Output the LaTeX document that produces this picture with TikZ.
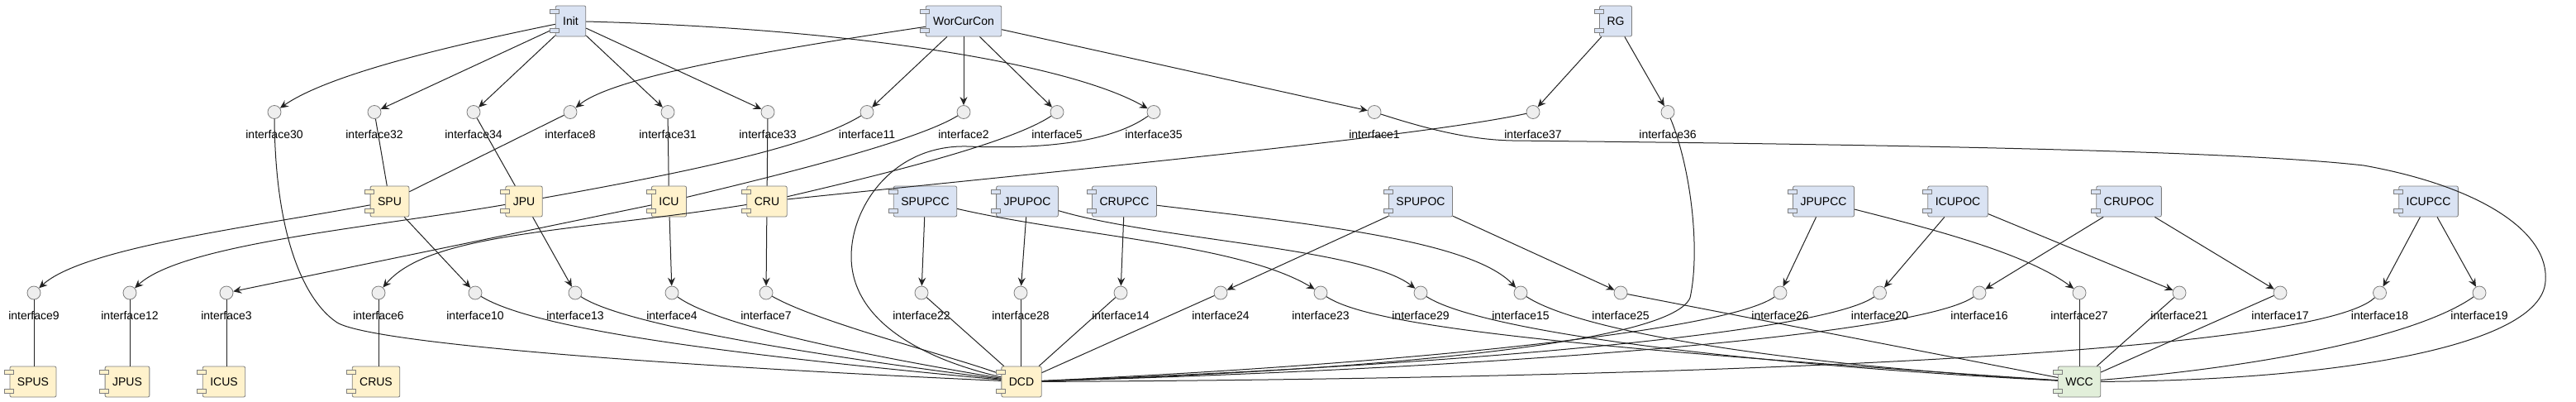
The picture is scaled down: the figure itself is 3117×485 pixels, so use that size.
\documentclass[tikz,border=0pt]{standalone}
\usepackage{fontspec}
\setmainfont{Liberation Sans}
\usetikzlibrary{arrows.meta}
\definecolor{cblue}{HTML}{DAE3F3}
\definecolor{cyel}{HTML}{FFF2CC}
\definecolor{cgrn}{HTML}{E2EFDA}
\definecolor{bord}{HTML}{7F7F7F}
\definecolor{ifill}{HTML}{EEEEEE}
\definecolor{edgec}{HTML}{222222}
\tikzset{
  comp/.style={draw=bord, fill=#1, line width=0.8pt, rounded corners=2pt, minimum height=37pt,
    inner xsep=9pt, inner ysep=0pt, font=\fontsize{14}{16}\selectfont},
  iface/.style={circle, draw=bord, fill=ifill, line width=0.8pt, minimum size=16pt, inner sep=0pt},
  lbl/.style={font=\fontsize{14}{16}\selectfont, inner sep=0pt},
  prov/.style={draw=edgec, line width=1pt, -{Stealth[length=10pt,width=9pt,inset=3.5pt]}},
  use/.style={draw=edgec, line width=1pt},
  port/.style={draw=bord, line width=0.8pt}
}
\begin{document}
\begin{tikzpicture}[x=1pt,y=-1pt]
\useasboundingbox (0,0) rectangle (3117,485);
% top components
\node[comp=cblue] (Init) at (690.5,25.5) {Init};
\node[comp=cblue] (WorCurCon) at (1166,25.5) {WorCurCon};
\node[comp=cblue] (RG) at (1955,25.5) {RG};
% middle components
\node[comp=cyel] (SPU) at (471.5,243.5) {SPU};
\node[comp=cyel] (JPU) at (634,243.5) {JPU};
\node[comp=cyel] (ICU) at (809.5,243.5) {ICU};
\node[comp=cyel] (CRU) at (928,243.5) {CRU};
\node[comp=cblue] (SPUPCC) at (1119.5,243.5) {SPUPCC};
\node[comp=cblue] (JPUPOC) at (1243,243.5) {JPUPOC};
\node[comp=cblue] (CRUPCC) at (1360.5,243.5) {CRUPCC};
\node[comp=cblue] (SPUPOC) at (1719,243.5) {SPUPOC};
\node[comp=cblue] (JPUPCC) at (2206.5,243.5) {JPUPCC};
\node[comp=cblue] (ICUPOC) at (2369,243.5) {ICUPOC};
\node[comp=cblue] (CRUPOC) at (2576,243.5) {CRUPOC};
\node[comp=cblue] (ICUPCC) at (2938.5,243.5) {ICUPCC};
% bottom components
\node[comp=cyel] (SPUS) at (40,461.5) {SPUS};
\node[comp=cyel] (JPUS) at (154,461.5) {JPUS};
\node[comp=cyel] (ICUS) at (271,461.5) {ICUS};
\node[comp=cyel] (CRUS) at (455,461.5) {CRUS};
\node[comp=cyel] (DCD) at (1236,461.5) {DCD};
\node[comp=cgrn] (WCC) at (2516,461.5) {WCC};
% interfaces row 1
\foreach \n/\x in {30/332,32/453,34/573,8/690,31/808,33/929,11/1049,2/1166,5/1279,35/1396,1/1663,37/1855,36/2018}{
  \node[iface] (i\n) at (\x,135.5) {};
  \node[lbl] (l\n) at (\x,162.5) {interface\n};
}
% interfaces row 2
\foreach \n/\x in {9/41,12/157,3/274,6/458,10/575,13/696,4/813,7/927,22/1115,28/1235,14/1356,24/1477,23/1598,29/1719,15/1840,25/1961,26/2154,20/2274.5,16/2395,27/2516,21/2637,17/2759,18/2879.5,19/3000}{
  \node[iface] (i\n) at (\x,354) {};
  \node[lbl] (l\n) at (\x,381) {interface\n};
}
% provided interfaces, top row
\draw[prov] (Init) .. controls (560,52) and (400,88) .. (i30);
\draw[prov] (Init) -- (i32);
\draw[prov] (Init) -- (i34);
\draw[prov] (Init) -- (i31);
\draw[prov] (Init) -- (i33);
\draw[prov] (Init) .. controls (1050,35) and (1300,80) .. (i35);
\draw[prov] (WorCurCon) .. controls (900,65) and (740,95) .. (i8);
\draw[prov] (WorCurCon) -- (i11);
\draw[prov] (WorCurCon) -- (i2);
\draw[prov] (WorCurCon) -- (i5);
\draw[prov] (WorCurCon) -- (i1);
\draw[prov] (RG) -- (i37);
\draw[prov] (RG) -- (i36);
% uses, row 1
\draw[use] (i30) .. controls (333,290) and (370,365) .. (408,390) .. controls (450,415) and (800,442) .. (DCD);
\draw[use] (i32) -- (SPU);
\draw[use] (i34) -- (JPU);
\draw[use] (i8) -- (SPU);
\draw[use] (i31) -- (ICU);
\draw[use] (i33) -- (CRU);
\draw[use] (i11) .. controls (985,175) and (850,205) .. (JPU);
\draw[use] (i2) .. controls (1110,170) and (950,210) .. (ICU);
\draw[use] (i5) .. controls (1220,175) and (1050,215) .. (CRU);
\draw[use] (i35) .. controls (1340,175) and (1250,180) .. (1170,177) .. controls (1080,175) and (1030,250) .. (1030,310) .. controls (1030,390) and (1120,435) .. (DCD);
\draw[use] (i1) .. controls (1730,157) and (1780,169) .. (1830,170) .. controls (2300,175) and (2700,182) .. (2860,200) .. controls (3000,225) and (3085,280) .. (3080,340) .. controls (3075,420) and (2820,460) .. (WCC);
\draw[use] (i37) .. controls (1720,165) and (1300,205) .. (CRU);
\draw[use] (i36) .. controls (2045,200) and (2058,300) .. (2045,360) .. controls (2020,420) and (1600,450) .. (DCD);
% provided interfaces, middle row
\draw[prov] (SPU) .. controls (300,275) and (100,300) .. (i9);
\draw[prov] (SPU) -- (i10);
\draw[prov] (JPU) .. controls (450,275) and (220,295) .. (i12);
\draw[prov] (JPU) -- (i13);
\draw[prov] (ICU) -- (i3);
\draw[prov] (ICU) -- (i4);
\draw[prov] (CRU) .. controls (700,280) and (520,280) .. (i6);
\draw[prov] (CRU) -- (i7);
\draw[prov] (SPUPCC) -- (i22);
\draw[prov] (SPUPCC) .. controls (1300,285) and (1500,295) .. (i23);
\draw[prov] (JPUPOC) -- (i28);
\draw[prov] (JPUPOC) .. controls (1400,290) and (1650,300) .. (i29);
\draw[prov] (CRUPCC) -- (i14);
\draw[prov] (CRUPCC) .. controls (1580,270) and (1780,290) .. (i15);
\draw[prov] (SPUPOC) -- (i24);
\draw[prov] (SPUPOC) -- (i25);
\draw[prov] (JPUPCC) -- (i26);
\draw[prov] (JPUPCC) .. controls (2330,275) and (2450,305) .. (i27);
\draw[prov] (ICUPOC) -- (i20);
\draw[prov] (ICUPOC) -- (i21);
\draw[prov] (CRUPOC) -- (i16);
\draw[prov] (CRUPOC) -- (i17);
\draw[prov] (ICUPCC) -- (i18);
\draw[prov] (ICUPCC) -- (i19);
% uses, row 2
\draw[use] (i9) -- (i9 |- SPUS.north);
\draw[use] (i12) -- (i12 |- JPUS.north);
\draw[use] (i3) -- (i3 |- ICUS.north);
\draw[use] (i6) -- (i6 |- CRUS.north);
\draw[use] (i10) .. controls (650,400) and (900,430) .. (DCD);
\draw[use] (i13) .. controls (750,390) and (950,425) .. (DCD);
\draw[use] (i4) .. controls (870,395) and (1050,430) .. (DCD);
\draw[use] (i7) .. controls (990,390) and (1150,430) .. (DCD);
\draw[use] (i22) -- (DCD);
\draw[use] (i28) -- (i28 |- DCD.north);
\draw[use] (i14) -- (DCD);
\draw[use] (i24) -- (DCD);
\draw[use] (i23) .. controls (1660,395) and (1900,420) .. (WCC);
\draw[use] (i29) .. controls (1790,400) and (2100,440) .. (WCC);
\draw[use] (i15) .. controls (1910,400) and (2150,440) .. (WCC);
\draw[use] (i25) -- (WCC);
\draw[use] (i26) .. controls (2090,400) and (1700,440) .. (DCD);
\draw[use] (i20) .. controls (2210,400) and (1800,440) .. (DCD);
\draw[use] (i16) .. controls (2330,400) and (1900,442) .. (DCD);
\draw[use] (i27) -- (i27 |- WCC.north);
\draw[use] (i21) -- (WCC);
\draw[use] (i17) -- (WCC);
\draw[use] (i18) .. controls (2800,430) and (2000,458) .. (DCD);
\draw[use] (i19) .. controls (2920,410) and (2720,445) .. (WCC);
% component ports
\foreach \n/\c in {Init/cblue,WorCurCon/cblue,RG/cblue,SPU/cyel,JPU/cyel,ICU/cyel,CRU/cyel,SPUPCC/cblue,JPUPOC/cblue,CRUPCC/cblue,SPUPOC/cblue,JPUPCC/cblue,ICUPOC/cblue,CRUPOC/cblue,ICUPCC/cblue,SPUS/cyel,JPUS/cyel,ICUS/cyel,CRUS/cyel,DCD/cyel,WCC/cgrn}{
  \draw[port,fill=\c] ([shift={(-6pt,-5pt)}]\n.north west) rectangle ++(11pt,-5pt);
  \draw[port,fill=\c] ([shift={(-6pt,5pt)}]\n.south west) rectangle ++(11pt,5pt);
}
\end{tikzpicture}
\end{document}
